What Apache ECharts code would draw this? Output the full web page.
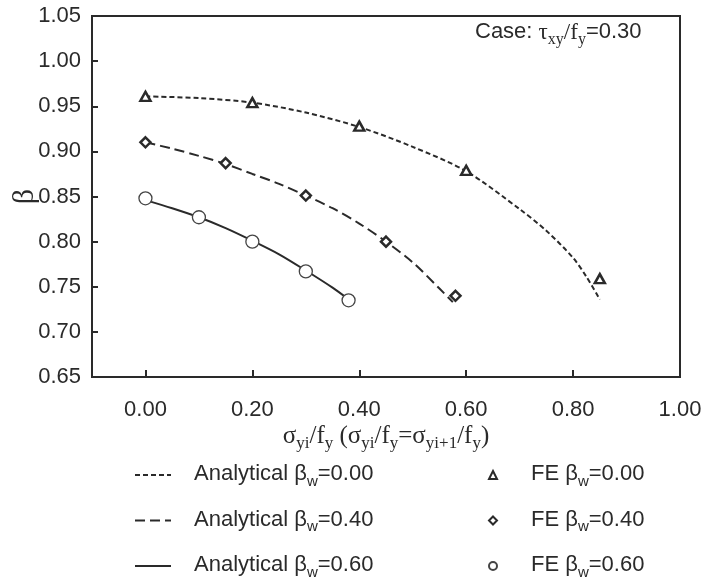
<!DOCTYPE html>
<html><head><meta charset="utf-8">
<script src="https://cdn.jsdelivr.net/npm/echarts@6/dist/echarts.min.js"></script>
<style>html,body{margin:0;padding:0;background:#fff}#c{width:702px;height:580px}</style>
</head><body><div id="c"></div>
<script>
// ---- data ----
const xTickValues = [0, 0.2, 0.4, 0.6, 0.8, 1.0];
const anaX0 = [0, 0.1, 0.2, 0.3, 0.4, 0.5, 0.6, 0.7, 0.75, 0.8, 0.825, 0.85];
const anaY0 = [0.961, 0.959, 0.954, 0.943, 0.927, 0.905, 0.878, 0.836, 0.812, 0.782, 0.761, 0.736];
const anaX4 = [0, 0.05, 0.1, 0.15, 0.2, 0.25, 0.3, 0.35, 0.4, 0.45, 0.5, 0.55, 0.575];
const anaY4 = [0.910, 0.903, 0.895, 0.886, 0.875, 0.864, 0.851, 0.837, 0.820, 0.800, 0.777, 0.748, 0.733];
const anaX6 = [0, 0.05, 0.1, 0.15, 0.2, 0.25, 0.3, 0.35, 0.38];
const anaY6 = [0.846, 0.837, 0.827, 0.815, 0.801, 0.786, 0.768, 0.749, 0.736];
const feX0 = [0, 0.2, 0.4, 0.6, 0.85];
const feY0 = [0.961, 0.954, 0.928, 0.879, 0.759];
const feX4 = [0, 0.15, 0.3, 0.45, 0.58];
const feY4 = [0.910, 0.887, 0.851, 0.800, 0.740];
const feX6 = [0, 0.1, 0.2, 0.3, 0.38];
const feY6 = [0.848, 0.827, 0.800, 0.767, 0.735];
const anaNames = ['Analytical βw=0.00', 'Analytical βw=0.40', 'Analytical βw=0.60'];
const feNames = ['FE βw=0.00', 'FE βw=0.40', 'FE βw=0.60'];

const zip = (xs, ys) => xs.map((x, i) => [x, ys[i]]);
const INK = '#2a2a2a';
const SANS = '"Liberation Sans", Arial, sans-serif';
const SERIF = '"Liberation Serif", "Times New Roman", serif';

const legendRich = {
  t: {fontFamily: SANS, fontSize: 22, color: INK, lineHeight: 24, verticalAlign: 'top'},
  b: {fontFamily: SANS, fontSize: 22, color: INK, lineHeight: 24, verticalAlign: 'top'},
  sub: {fontFamily: SANS, fontSize: 15, color: INK, lineHeight: 15, padding: [11, 0, 0, 0], verticalAlign: 'top'}
};
const legendFmt = name => {
  const p = name.split('βw');
  return '{t|' + p[0] + '}{b|β}{sub|w}{t|' + p[1] + '}';
};

const chart = echarts.init(document.getElementById('c'), null, {renderer: 'canvas'});
chart.setOption({
  animation: false,
  backgroundColor: '#fff',
  title: {
    left: 475, top: 21, padding: 0,
    text: '{a|Case: }{g|τ}{s|xy}{g|/f}{s|y}{a|=0.30}',
    textStyle: {fontWeight: 'normal', rich: {
      a: {fontFamily: SANS, fontWeight: 'normal', fontSize: 22, color: INK, lineHeight: 24, verticalAlign: 'top'},
      g: {fontFamily: SERIF, fontWeight: 'normal', fontSize: 23, color: INK, lineHeight: 24, verticalAlign: 'top'},
      s: {fontFamily: SERIF, fontWeight: 'normal', fontSize: 16, color: INK, lineHeight: 16, padding: [11, 0, 0, 0], verticalAlign: 'top'}
    }}
  },
  grid: {left: 92, right: 22, top: 16, bottom: 203, containLabel: false, outerBoundsMode: 'none',
    show: true, borderColor: INK, borderWidth: 2, backgroundColor: 'transparent'},
  xAxis: {
    type: 'value', min: -0.1, max: 1.0,
    name: '{s|σ}{u|yi}{s|/f}{u|y}{s| (σ}{u|yi}{s|/f}{u|y}{s|=σ}{u|yi+1}{s|/f}{u|y}{s|)}',
    nameLocation: 'middle', nameGap: 47, nameMoveOverlap: false,
    nameTextStyle: {rich: {
      s: {fontFamily: SERIF, fontSize: 25, color: INK, lineHeight: 25, verticalAlign: 'top'},
      u: {fontFamily: SERIF, fontSize: 17, color: INK, lineHeight: 17, padding: [11, 0, 0, 0], verticalAlign: 'top'}
    }},
    axisLine: {show: true, onZero: false, lineStyle: {color: INK, width: 2}},
    axisTick: {show: true, inside: true, length: 7, customValues: xTickValues, lineStyle: {color: INK, width: 2}},
    axisLabel: {customValues: xTickValues, margin: 22, fontFamily: SANS, fontSize: 22, color: INK,
      formatter: v => v.toFixed(2)},
    splitLine: {show: false}
  },
  yAxis: {
    type: 'value', min: 0.65, max: 1.05, interval: 0.05,
    name: 'β', nameLocation: 'middle', nameGap: 52, nameRotate: 90, nameMoveOverlap: false,
    nameTextStyle: {fontFamily: SERIF, fontSize: 30, color: INK},
    axisLine: {show: true, onZero: false, lineStyle: {color: INK, width: 2}},
    axisTick: {show: true, inside: true, length: 6, lineStyle: {color: INK, width: 2}},
    axisLabel: {margin: 11, fontFamily: SANS, fontSize: 22, color: INK, formatter: v => v.toFixed(2)},
    splitLine: {show: false}
  },
  legend: [
    {orient: 'vertical', left: 134, top: 463, padding: 0, itemGap: 19.5, itemWidth: 36, itemHeight: 14,
     itemStyle: {opacity: 0},
     data: anaNames, formatter: legendFmt, textStyle: {rich: legendRich, padding: [0, 0, 0, 18]}, selectedMode: false},
    {orient: 'vertical', left: 488, top: 463, padding: 0, itemGap: 19.5, itemWidth: 8, itemHeight: 8,
     data: feNames, formatter: legendFmt, textStyle: {rich: legendRich, padding: [0, 0, 0, 29]}, selectedMode: false}
  ],
  series: [
    {name: anaNames[0], type: 'line', data: zip(anaX0, anaY0), smooth: 0.3, symbol: 'none', z: 2,
     lineStyle: {color: INK, width: 2, type: [5, 3]}, itemStyle: {color: INK}},
    {name: anaNames[1], type: 'line', data: zip(anaX4, anaY4), smooth: 0.3, symbol: 'none', z: 2,
     lineStyle: {color: INK, width: 2, type: [10, 5]}, itemStyle: {color: INK}},
    {name: anaNames[2], type: 'line', data: zip(anaX6, anaY6), smooth: 0.3, symbol: 'none', z: 2,
     lineStyle: {color: INK, width: 2}, itemStyle: {color: INK}},
    {name: feNames[0], type: 'scatter', data: zip(feX0, feY0), symbol: 'triangle', symbolSize: [10, 9], z: 3,
     itemStyle: {color: '#fff', borderColor: INK, borderWidth: 2.5, opacity: 1}},
    {name: feNames[1], type: 'scatter', data: zip(feX4, feY4), symbol: 'diamond', symbolSize: 10, z: 3,
     itemStyle: {color: '#fff', borderColor: INK, borderWidth: 2.5, opacity: 1}},
    {name: feNames[2], type: 'scatter', data: zip(feX6, feY6), symbol: 'circle', symbolSize: 13, z: 3,
     itemStyle: {color: '#fff', borderColor: '#444', borderWidth: 1.3, opacity: 1}}
  ]
});
</script></body></html>
